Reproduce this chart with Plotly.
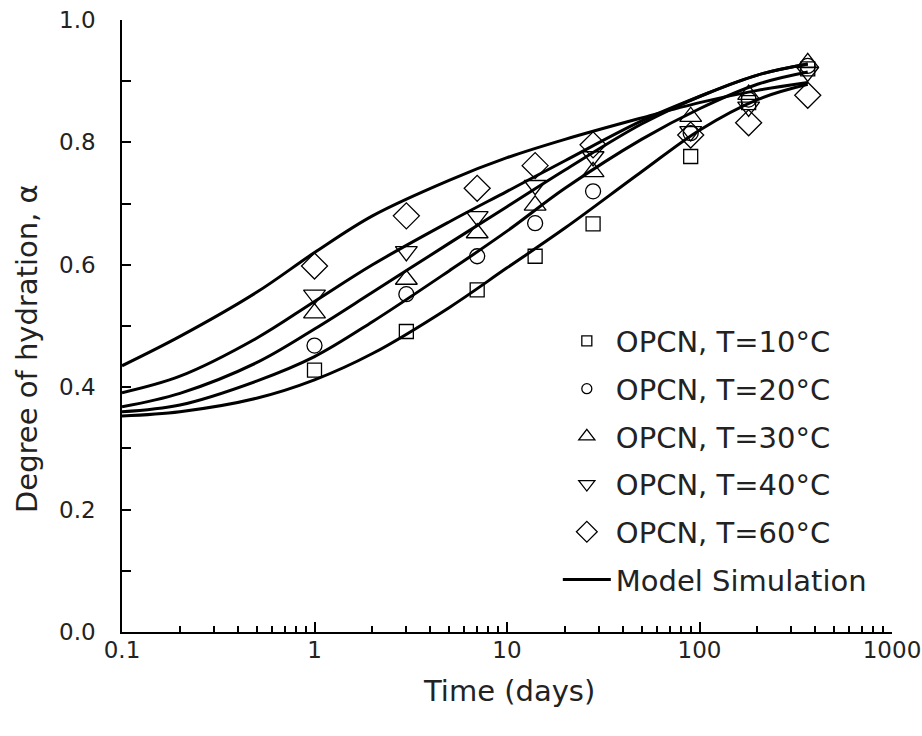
import plotly.graph_objects as go

# ---- measured data (days, degree of hydration) ----
days = [1, 3, 7, 14, 28, 90, 180, 365]
alpha_10 = [0.428, 0.491, 0.559, 0.614, 0.667, 0.777, 0.865, 0.920]
alpha_20 = [0.468, 0.552, 0.614, 0.668, 0.720, 0.815, 0.870, 0.925]
alpha_30 = [0.521, 0.576, 0.652, 0.697, 0.752, 0.842, 0.878, 0.930]
alpha_40 = [0.551, 0.622, 0.679, 0.730, 0.777, 0.818, 0.858, 0.915]
alpha_60 = [0.598, 0.680, 0.725, 0.762, 0.796, 0.812, 0.832, 0.877]

# ---- model simulation curves ----
sim_days = [0.1, 0.2, 0.5, 1, 2, 5, 10, 20, 50, 100, 200, 365]
sim_10 = [0.353, 0.360, 0.382, 0.412, 0.455, 0.530, 0.595, 0.660, 0.752, 0.820, 0.870, 0.895]
sim_20 = [0.360, 0.371, 0.410, 0.450, 0.507, 0.590, 0.655, 0.725, 0.805, 0.855, 0.895, 0.915]
sim_30 = [0.368, 0.390, 0.440, 0.495, 0.555, 0.635, 0.695, 0.755, 0.830, 0.875, 0.910, 0.928]
sim_40 = [0.391, 0.418, 0.480, 0.540, 0.600, 0.670, 0.720, 0.770, 0.835, 0.875, 0.910, 0.928]
sim_60 = [0.435, 0.483, 0.555, 0.620, 0.680, 0.738, 0.775, 0.805, 0.840, 0.865, 0.885, 0.898]

labels = ["OPCN, T=10°C", "OPCN, T=20°C", "OPCN, T=30°C", "OPCN, T=40°C", "OPCN, T=60°C"]
symbols = ["square-open", "circle-open", "triangle-up-open", "triangle-down-open", "diamond-open"]
sizes = [14, 15, 19, 19, 20]
legend_sizes = [10, 10, 14, 14, 16]
meas = [alpha_10, alpha_20, alpha_30, alpha_40, alpha_60]
sims = [sim_10, sim_20, sim_30, sim_40, sim_60]

x_major = [0.1, 1, 10, 100, 1000]
x_major_text = ["0.1", "1", "10", "100", "1000"]
x_minor = [m * 10.0 ** e for e in range(-1, 3) for m in range(2, 10)]

FONT = "DejaVu Sans"
TXT = "#222"
fig = go.Figure()

for i, s in enumerate(sims):
    fig.add_trace(go.Scatter(
        x=sim_days, y=s, mode="lines", line=dict(color="black", width=3, shape="spline", smoothing=1.0),
        showlegend=False, hoverinfo="skip"))

for i in range(5):
    fig.add_trace(go.Scatter(
        x=days, y=meas[i], mode="markers", showlegend=False,
        marker=dict(symbol=symbols[i], size=sizes[i], color="black", line=dict(color="black", width=1.3))))

# legend entries
for i in range(5):
    fig.add_trace(go.Scatter(
        x=[None], y=[None], mode="markers", name=labels[i], legendgroup=f"g{i}", legendrank=i + 1,
        marker=dict(symbol=symbols[i], size=legend_sizes[i], color="black", line=dict(color="black", width=1.3))))
fig.add_trace(go.Scatter(x=[None], y=[None], mode="lines", name="Model Simulation",
                         legendgroup="sim", legendrank=10, line=dict(color="black", width=3)))

fig.update_layout(
    width=922, height=736,
    margin=dict(l=122, r=30, t=20, b=104, autoexpand=False),
    paper_bgcolor="white", plot_bgcolor="white",
    font=dict(family=FONT, color="black", size=24),
    legend=dict(x=0.566, y=0.517, xanchor="left", yanchor="top", bgcolor="rgba(0,0,0,0)",
                font=dict(family=FONT, size=29, color=TXT), itemwidth=48,
                traceorder="grouped", tracegroupgap=7),
    xaxis=dict(type="log", range=[-1, 3], showgrid=False, zeroline=False,
               showline=True, linecolor="black", linewidth=1.5, mirror=False,
               ticks="inside", ticklen=10, tickwidth=1.5, tickcolor="black",
               tickvals=x_major, ticktext=x_major_text,
               tickfont=dict(family=FONT, size=23, color=TXT), ticklabelstandoff=-3,
               minor=dict(ticks="inside", ticklen=6, tickwidth=1.5, tickcolor="black",
                          tickvals=x_minor, showgrid=False)),
    yaxis=dict(range=[0, 1], showgrid=False, zeroline=False,
               showline=True, linecolor="black", linewidth=1.5, mirror=False,
               ticks="inside", ticklen=9, tickwidth=1.5, tickcolor="black",
               tickvals=[0.0, 0.2, 0.4, 0.6, 0.8, 1.0], tickformat=".1f",
               tickfont=dict(family=FONT, size=23, color=TXT), ticklabelstandoff=20,
               minor=dict(ticks="inside", ticklen=9, tickwidth=1.5, tickcolor="black", dtick=0.1, showgrid=False)),
    annotations=[
        dict(text="Time (days)", xref="paper", yref="paper", x=0.503, y=-0.096, xanchor="center",
             yanchor="middle", showarrow=False, font=dict(family=FONT, size=29, color=TXT)),
        dict(text="Degree of hydration, α", xref="paper", yref="paper", x=-0.1234, y=0.464,
             xanchor="center", yanchor="middle", textangle=-90, showarrow=False,
             font=dict(family=FONT, size=29, color=TXT)),
    ],
)

fig.write_html("out.html")
